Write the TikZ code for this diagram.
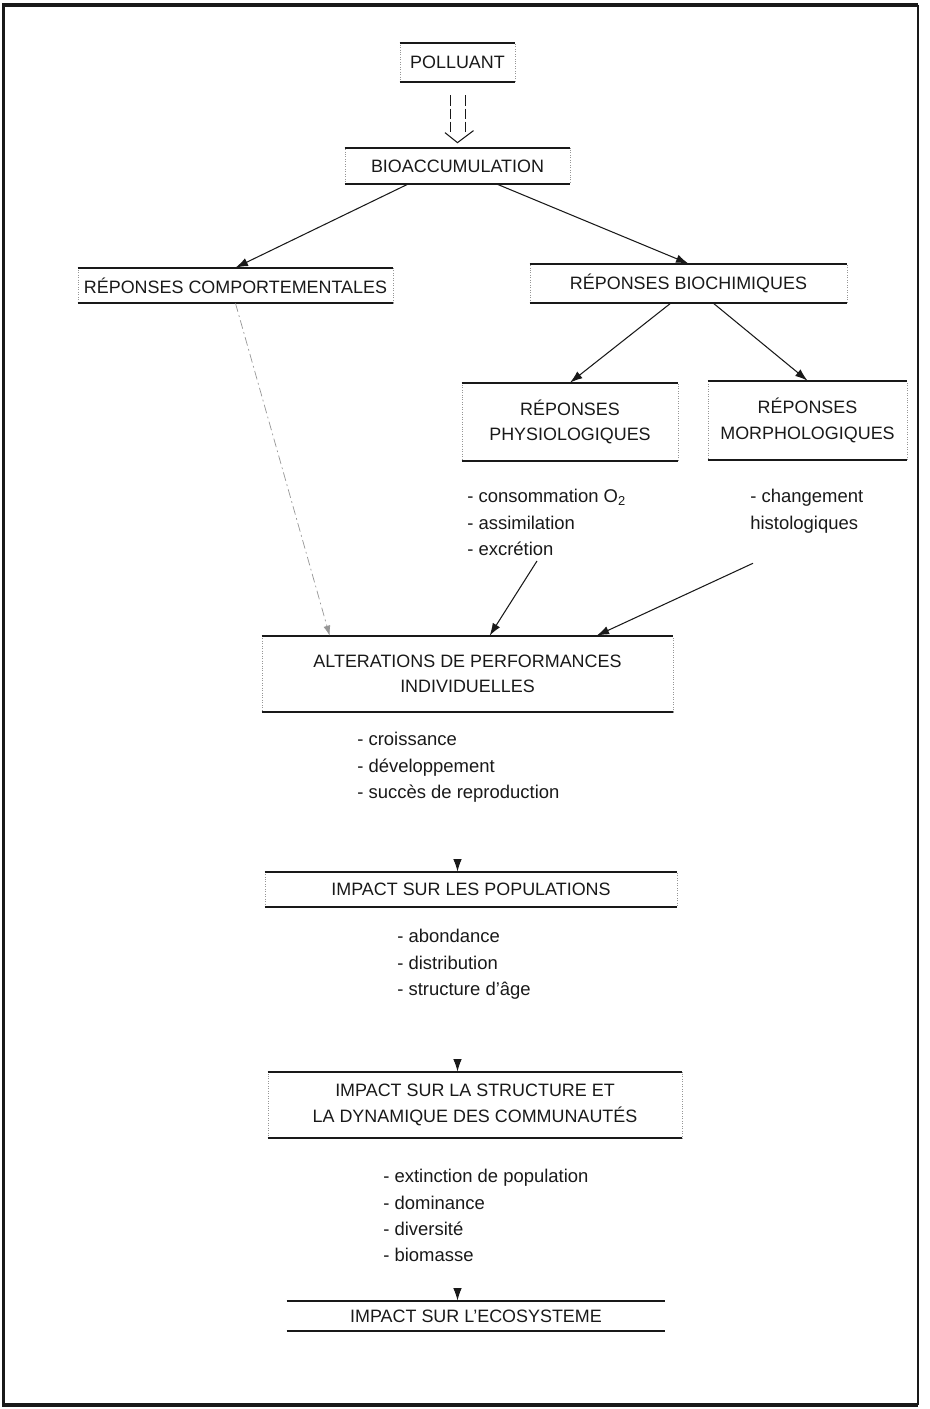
\documentclass[tikz,border=0pt]{standalone}
\usepackage{fontspec}
\setmainfont{Liberation Sans}
\usepackage{tikz}
\usetikzlibrary{arrows.meta, positioning, calc}
\definecolor{ink}{RGB}{25, 25, 25}
\definecolor{faint}{RGB}{150, 150, 150}
\tikzstyle{stage} = [rectangle, inner sep=2pt, text centered, align=center, draw=faint, densely dotted, text=ink, font=\fontsize{10.2}{14.5}\selectfont]
\tikzstyle{effects} = [inner sep=0pt, align=left, anchor=north west, text=ink, font=\fontsize{10.5}{15}\selectfont]
\tikzstyle{arrow} = [line width=0.6pt, ink, -{Latex[length=2.5mm, width=1.7mm]}]
\tikzstyle{faintarrow} = [line width=0.4pt, faint, dash pattern=on 5pt off 2pt on 1pt off 2pt, -{Latex[length=2mm, width=1.4mm]}]
\tikzstyle{rule} = [line width=1pt, ink]
\tikzstyle{stem} = [line width=0.5pt, ink, dash pattern=on 6pt off 1.5pt]

\begin{document}
\begin{tikzpicture}
    \useasboundingbox (0,0) rectangle (18.6,-28.18);
    % Frame
    \draw[line width=2pt, ink] (18.36,-0.1) -- (0.07,-0.1) -- (0.07,-28.1) -- (18.36,-28.1);
    \draw[line width=1.1pt, ink] (18.36,-0.1) -- (18.36,-28.1);

    % Pollutant and uptake
    \node[stage, minimum width=2.3cm, minimum height=0.78cm] (pol) at (9.15,-1.25) {POLLUANT};
    \node[stage, minimum width=4.5cm, minimum height=0.72cm] (bio) at (9.15,-3.32) {BIOACCUMULATION};

    % Responses
    \node[stage, minimum width=6.3cm, minimum height=0.7cm] (comp) at (4.71,-5.71) {RÉPONSES COMPORTEMENTALES};
    \node[stage, minimum width=6.34cm, minimum height=0.78cm] (biochim) at (13.77,-5.67) {RÉPONSES BIOCHIMIQUES};
    \node[stage, minimum width=4.32cm, minimum height=1.56cm] (physio) at (11.4,-8.44) {RÉPONSES\\PHYSIOLOGIQUES};
    \node[stage, minimum width=3.98cm, minimum height=1.58cm] (morpho) at (16.15,-8.41) {RÉPONSES\\MORPHOLOGIQUES};
    \node[effects] (physlist) at (9.34,-9.78) {- consommation O\textsubscript{2}\\- assimilation\\- excrétion};
    \node[effects] (morphlist) at (15.0,-9.78) {- changement\\histologiques};

    % Individuals
    \node[stage, minimum width=8.22cm, minimum height=1.52cm] (alter) at (9.35,-13.48) {ALTERATIONS DE PERFORMANCES\\INDIVIDUELLES};
    \node[effects] (alterlist) at (7.14,-14.64) {- croissance\\- développement\\- succès de reproduction};

    % Populations
    \node[stage, minimum width=8.24cm, minimum height=0.7cm] (pop) at (9.42,-17.79) {IMPACT SUR LES POPULATIONS};
    \node[effects] (poplist) at (7.94,-18.58) {- abondance\\- distribution\\- structure d'âge};

    % Communities
    \node[stage, minimum width=8.28cm, minimum height=1.32cm] (struct) at (9.5,-22.1) {IMPACT SUR LA STRUCTURE ET\\LA DYNAMIQUE DES COMMUNAUTÉS};
    \node[effects] (structlist) at (7.66,-23.38) {- extinction de population\\- dominance\\- diversité\\- biomasse};

    % Ecosystem
    \node[stage, draw=none, minimum width=7.56cm, minimum height=0.6cm] (eco) at (9.52,-26.32) {IMPACT SUR L'ECOSYSTEME};

    % Heavy top and bottom rules of the boxes
    \foreach \n in {pol, bio, comp, biochim, physio, morpho, alter, pop, struct, eco}
        \draw[rule] (\n.north west) -- (\n.north east) (\n.south west) -- (\n.south east);

    % Hollow arrow
    \draw[stem] ([xshift=-0.14cm, yshift=-0.26cm]pol.south) -- ([xshift=-0.14cm, yshift=0.28cm]bio.north);
    \draw[stem] ([xshift=0.15cm, yshift=-0.26cm]pol.south) -- ([xshift=0.15cm, yshift=0.28cm]bio.north);
    \draw[line width=0.6pt, ink] ([shift={(-0.25,0.3)}]bio.north) -- ([yshift=0.1cm]bio.north) -- ([shift={(0.32,0.34)}]bio.north);

    % Arrows
    \draw[arrow] ([xshift=-1cm]bio.south) -- (comp.north);
    \draw[arrow] ([xshift=0.8cm]bio.south) -- (biochim.north);
    \draw[arrow] ([xshift=-0.36cm]biochim.south) -- (physio.north);
    \draw[arrow] ([xshift=0.5cm]biochim.south) -- (morpho.north);
    \draw[faintarrow] (comp.south) -- ([xshift=1.36cm]alter.north west);
    \draw[arrow] ([xshift=1.4cm, yshift=-0.1cm]physlist.south west) -- ([xshift=4.56cm]alter.north west);
    \draw[arrow] ([xshift=0.06cm, yshift=-0.6cm]morphlist.south west) -- ([xshift=6.7cm]alter.north west);
    \draw[arrow] ($(bio.south |- pop.north)+(0,0.25)$) -- (bio.south |- pop.north);
    \draw[arrow] ($(bio.south |- struct.north)+(0,0.25)$) -- (bio.south |- struct.north);
    \draw[arrow] ($(bio.south |- eco.north)+(0,0.25)$) -- (bio.south |- eco.north);
\end{tikzpicture}
\end{document}
